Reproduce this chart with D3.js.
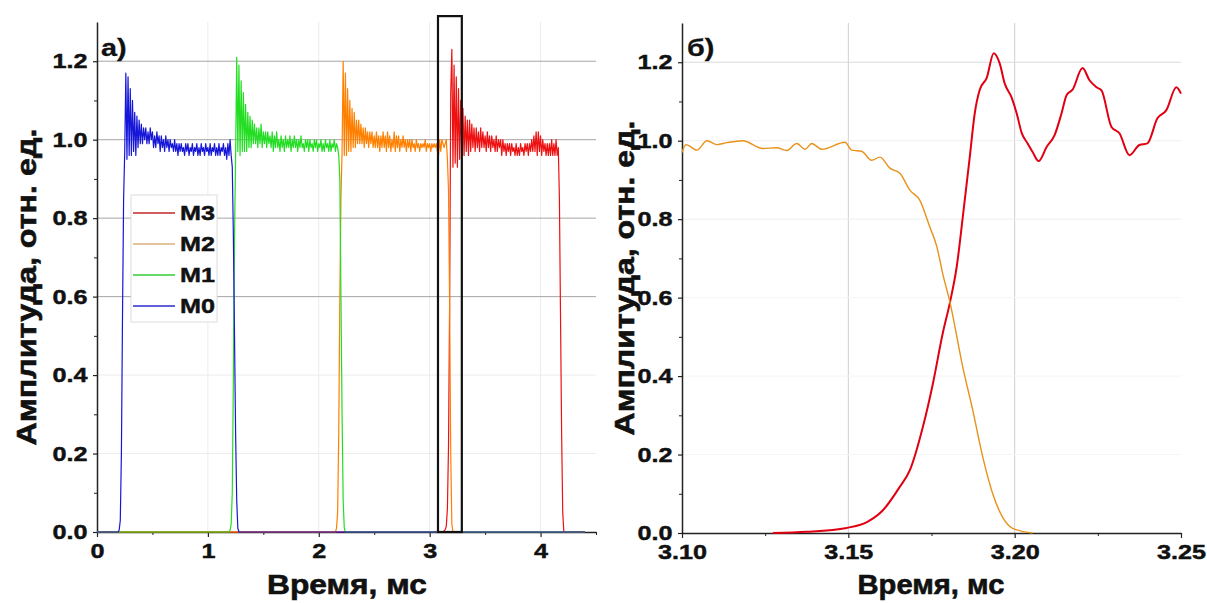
<!DOCTYPE html>
<html>
<head>
<meta charset="utf-8">
<script src="https://cdn.jsdelivr.net/npm/d3@7"></script>
<style>
  body { margin: 0; background: #fff; }
  svg { display: block; font-family: "Liberation Sans", Arial, sans-serif; }
</style>
</head>
<body>
<svg id="chart" width="1207" height="603"></svg>
<script>
// ---- data ----
const seriesNames = ["M3", "M2", "M1", "M0"];
const baseSpan = [0, 4.4];      // every series sits at zero over this range
const pulseStep = 0.01;         // sampling step of the pulse arrays, ms

const m0Start = 0.19;
const m0Values = [0,0.005,0.03,0.2,0.55,0.85,0.97,1.17,0.95,1.16,0.96,1.13,0.96,1.10,0.97,1.07,0.96,1.06,0.98,1.05,
  0.99,1.04,0.99,1.03,1.00,1.03,0.99,1.02,0.99,1.03,1.00,1.02,0.98,1.01,0.98,1.02,0.99,1.01,0.97,1.01,
  0.98,1.00,0.97,1.01,0.98,1.00,0.97,1.00,0.98,0.99,0.97,1.00,0.97,0.99,0.96,0.99,0.97,0.99,0.97,0.98,
  0.96,0.99,0.97,0.99,0.96,0.98,0.97,0.99,0.96,0.98,0.97,0.99,0.96,0.98,0.96,0.99,0.97,0.98,0.96,0.99,
  0.97,0.98,0.96,0.99,0.96,0.98,0.97,0.99,0.96,0.98,0.96,0.99,0.96,0.98,0.97,0.99,0.96,0.98,0.95,0.99,
  0.96,1.00,0.96,0.93,0.75,0.5,0.25,0.08,0.01,0];

const m1Start = 1.19;
const m1Values = [0,0.005,0.02,0.1,0.4,0.75,0.96,1.21,0.97,1.19,0.96,1.15,0.97,1.12,0.97,1.09,0.97,1.07,0.98,1.06,
  0.98,1.05,0.99,1.04,0.99,1.03,0.98,1.03,0.99,1.04,0.98,1.02,0.99,1.02,0.98,1.02,0.99,1.01,0.98,1.02,
  0.97,1.01,0.98,1.02,0.98,1.00,0.97,1.01,0.98,1.00,0.97,1.01,0.98,1.00,0.98,1.01,0.97,1.00,0.98,1.01,
  0.98,1.00,0.97,1.00,0.98,1.01,0.98,0.99,0.97,1.00,0.98,1.00,0.97,1.00,0.98,0.99,0.97,1.00,0.98,1.00,
  0.97,0.99,0.98,1.00,0.97,0.99,0.97,1.00,0.98,0.99,0.97,1.00,0.97,0.99,0.98,1.00,0.97,0.99,0.98,0.96,
  0.9,0.6,0.3,0.08,0.01,0];

const m2Start = 2.15;
const m2Values = [0,0.01,0.05,0.25,0.6,0.85,0.97,1.20,0.96,1.17,0.96,1.13,0.97,1.10,0.97,1.08,0.98,1.07,0.98,1.05,
  0.99,1.05,0.99,1.04,0.99,1.03,0.98,1.03,0.99,1.02,0.98,1.02,0.99,1.02,0.98,1.01,0.98,1.02,0.98,1.01,
  0.97,1.01,0.98,1.02,0.98,1.01,0.97,1.02,0.98,1.01,0.97,1.00,0.98,1.02,0.97,1.01,0.98,1.01,0.97,1.00,
  0.98,1.01,0.98,1.00,0.97,1.00,0.98,1.00,0.97,1.00,0.98,0.99,0.97,1.00,0.98,0.99,0.97,0.99,0.98,0.99,
  0.98,1.00,0.97,0.99,0.98,0.99,0.97,0.99,0.98,0.99,0.98,0.99,0.97,0.96,1.00,0.97,1.00,0.99,0.98,0.99,
  1.00,0.95,0.87,0.58,0.2,0.02,0];

const m3Start = 3.12;
const m3Values = [0,0.003,0.006,0.015,0.06,0.22,0.58,1.12,1.23,0.93,1.19,0.94,1.16,0.93,1.13,0.95,1.10,0.95,1.08,0.96,
  1.06,0.97,1.05,0.96,1.05,0.97,1.04,0.98,1.03,0.97,1.03,0.98,1.02,0.97,1.03,0.98,1.02,0.98,1.01,0.97,
  1.02,0.98,1.01,0.97,1.01,0.98,1.00,0.97,1.01,0.97,1.00,0.98,1.00,0.96,1.00,0.97,0.99,0.96,0.99,0.97,
  0.99,0.96,0.99,0.97,0.98,0.96,0.99,0.96,0.98,0.96,0.99,0.97,0.98,0.96,0.99,0.97,0.99,0.96,0.99,0.97,
  1.00,0.97,1.01,0.97,1.02,0.96,1.02,0.97,1.01,0.96,1.00,0.97,0.99,0.96,0.99,0.96,0.99,0.96,1.00,0.96,
  0.99,0.96,1.00,0.96,0.98,0.85,0.55,0.25,0.05,0];

// detail b): M2 fall and M3 rise, [time ms, amplitude]
const m2Detail = [[3.100,0.970],[3.1012,0.990],[3.1045,0.976],[3.1075,1.000],[3.1105,0.990],[3.1135,0.995],
  [3.1183,1.000],[3.1243,0.980],[3.1285,0.982],[3.1315,0.975],[3.1345,0.993],[3.137,0.978],[3.139,0.993],
  [3.142,0.978],[3.149,0.996],[3.151,0.976],[3.154,0.973],[3.157,0.950],[3.1595,0.958],[3.1625,0.930],
  [3.1655,0.917],[3.1685,0.874],[3.1715,0.848],[3.1745,0.780],[3.1766,0.730],[3.1784,0.660],[3.1805,0.590],
  [3.1844,0.423],[3.1874,0.313],[3.1904,0.194],[3.1934,0.100],[3.1964,0.040],[3.1994,0.012],[3.2054,0]];
const m3Detail = [[3.1273,0],[3.1375,0.003],[3.1495,0.013],[3.1556,0.028],[3.1604,0.058],[3.1655,0.118],
  [3.1685,0.160],[3.1724,0.270],[3.1754,0.380],[3.1784,0.510],[3.1805,0.586],[3.1826,0.680],[3.1844,0.805],
  [3.1865,0.958],[3.188,1.070],[3.1895,1.130],[3.1916,1.160],[3.1937,1.223],[3.1955,1.197],[3.197,1.146],
  [3.1991,1.110],[3.2006,1.070],[3.2021,1.020],[3.2039,0.993],[3.2054,0.971],[3.2072,0.948],[3.2096,0.984],
  [3.212,1.014],[3.2141,1.070],[3.2156,1.116],[3.2174,1.130],[3.2204,1.185],[3.2225,1.154],[3.2246,1.136],
  [3.2261,1.128],[3.2291,1.035],[3.2315,1.019],[3.2345,0.963],[3.2375,0.989],[3.2399,0.993],[3.2429,1.057],
  [3.2456,1.078],[3.2486,1.136],[3.25,1.120]];

const zoomBox = [3.075, 3.29, 0, 1.315];   // frame marking panel b) on panel a)

const yTicks = [0, 0.2, 0.4, 0.6, 0.8, 1.0, 1.2];
const yMinor = [0.1, 0.3, 0.5, 0.7, 0.9, 1.1];
const xTicksA = [0, 1, 2, 3, 4];
const xMinorA = [0.5, 1.5, 2.5, 3.5, 4.5];
const xTicksB = [3.10, 3.15, 3.20, 3.25];
const xMinorB = [3.125, 3.175, 3.225];

// ---- styles ----
const colorsA = { M3: "#ee1111", M2: "#ff8000", M1: "#22dd22", M0: "#1616d8" };
const legendColors = { M3: "#c0282c", M2: "#dcb07a", M1: "#33cc33", M0: "#2b2bcc" };
const colorsB = { M2: "#e8921c", M3: "#e00012" };
const SX = 1.2;   // horizontal stretch of the original figure text
const INK = "#111";

const svg = d3.select("#chart");

function pulse(start, values) {
  const pts = [[baseSpan[0], 0]];
  values.forEach((v, i) => pts.push([+(start + i * pulseStep).toFixed(3), v]));
  pts.push([baseSpan[1], 0]);
  return pts;
}
const pulsesA = {
  M0: pulse(m0Start, m0Values),
  M1: pulse(m1Start, m1Values),
  M2: pulse(m2Start, m2Values),
  M3: pulse(m3Start, m3Values)
};

// heavy text like the original bold Arial
function heavy(sel, w) {
  return sel.attr("font-weight", "bold").attr("fill", INK)
    .attr("stroke", INK).attr("stroke-width", w || 0.45);
}

function drawFrame(x, y, xTicks, xMinor, xFmt, opts) {
  const g = svg.append("g");
  const [x0, x1] = x.range();
  const [y0, y1] = y.range();

  // grid
  g.append("g").selectAll("line").data(xTicks.filter(d => opts.vGrid.includes(d)))
    .join("line")
      .attr("x1", d => x(d)).attr("x2", d => x(d))
      .attr("y1", y0).attr("y2", y1)
      .attr("stroke", opts.vGridColor).attr("stroke-width", 1);
  g.append("g").selectAll("line").data(yTicks.filter(d => d > 0))
    .join("line")
      .attr("x1", x0).attr("x2", x1)
      .attr("y1", d => y(d)).attr("y2", d => y(d))
      .attr("stroke", d => opts.hGridColor(d)).attr("stroke-width", 1);

  // minor ticks
  g.append("g")
      .attr("transform", `translate(0,${y0})`)
      .call(d3.axisBottom(x).tickValues(xMinor).tickSize(3).tickFormat(""))
      .call(s => s.select(".domain").remove());
  g.append("g")
      .attr("transform", `translate(${x0},0)`)
      .call(d3.axisLeft(y).tickValues(yMinor).tickSize(3).tickFormat(""))
      .call(s => s.select(".domain").remove());

  // main axes
  const ax = g.append("g")
      .attr("transform", `translate(0,${y0})`)
      .call(d3.axisBottom(x).tickValues(xTicks).tickSize(5).tickPadding(6)
        .tickSizeOuter(0).tickFormat(xFmt));
  const ay = g.append("g")
      .attr("transform", `translate(${x0},0)`)
      .call(d3.axisLeft(y).tickValues(yTicks).tickSize(4).tickPadding(4)
        .tickSizeOuter(0).tickFormat(d3.format(".1f")));
  [ax, ay].forEach(a => {
    a.select(".domain").attr("stroke", "#222").attr("stroke-width", 1.5);
    a.selectAll(".tick line").attr("stroke", "#222").attr("stroke-width", 1.2);
    heavy(a.selectAll("text"))
      .attr("font-size", 21)
      .attr("font-family", '"Liberation Sans", Arial, sans-serif')
      .attr("transform", `scale(${SX},1)`);
  });
  g.selectAll(".tick line").attr("stroke", "#222");
  return g;
}

function stretchedText(x, y, txt, size, anchor) {
  return heavy(svg.append("text"), 0.3)
      .attr("transform", `translate(${x},${y}) scale(${SX},1)`)
      .attr("text-anchor", anchor || "start")
      .attr("font-size", size)
      .text(txt);
}

function axisTitles(cx, baseY, xLen, yBaseX, yCenter, yLen) {
  heavy(svg.append("text"), 0.6)
      .attr("x", cx).attr("y", baseY)
      .attr("text-anchor", "middle")
      .attr("font-size", 28)
      .attr("textLength", xLen).attr("lengthAdjust", "spacingAndGlyphs")
      .text("Время, мс");
  heavy(svg.append("text"), 0.6)
      .attr("transform", `translate(${yBaseX},${yCenter}) rotate(-90)`)
      .attr("text-anchor", "middle")
      .attr("font-size", 27)
      .attr("textLength", yLen).attr("lengthAdjust", "spacingAndGlyphs")
      .text("Амплитуда, отн. ед.");
}

// ---- panel a) ----
const xA = d3.scaleLinear().domain([0, 4.5]).range([97, 596]);
const yA = d3.scaleLinear().domain([0, 1.3]).range([532, 22]);

drawFrame(xA, yA, xTicksA, xMinorA, d3.format("d"), {
  vGrid: [1, 2, 3, 4], vGridColor: "#ececec",
  hGridColor: d => d >= 0.6 ? "#a6a6a6" : "#ececec"
});

const lineA = d3.line().x(d => xA(d[0])).y(d => yA(d[1]));
svg.append("g")
  .selectAll("path")
  .data(seriesNames.map(n => ({ name: n, pts: pulsesA[n] })))
  .join("path")
    .attr("d", d => lineA(d.pts))
    .attr("fill", "none")
    .attr("stroke", d => colorsA[d.name])
    .attr("stroke-width", 1.2)
    .attr("stroke-linejoin", "round");

// legend
const legend = svg.append("g").attr("transform", "translate(131,195)");
legend.append("rect")
    .attr("width", 86).attr("height", 127)
    .attr("fill", "#fff").attr("stroke", "#dcdcdc").attr("stroke-width", 1);
seriesNames.forEach((n, i) => {
  const cy = 18 + i * 31;
  legend.append("line")
      .attr("x1", 2).attr("x2", 44).attr("y1", cy).attr("y2", cy)
      .attr("stroke", legendColors[n]).attr("stroke-width", 1.3);
  heavy(legend.append("text"))
      .attr("transform", `translate(49,${cy}) scale(${SX},1)`)
      .attr("dominant-baseline", "central")
      .attr("font-size", 21)
      .text(n);
});

// frame of the zoomed window
svg.append("rect")
    .attr("x", xA(zoomBox[0])).attr("y", yA(zoomBox[3]))
    .attr("width", xA(zoomBox[1]) - xA(zoomBox[0]))
    .attr("height", yA(zoomBox[2]) - yA(zoomBox[3]))
    .attr("fill", "none").attr("stroke", "#111").attr("stroke-width", 2.2);

stretchedText(101, 56, "а)", 24);
axisTitles(347, 594, 160, 36, 287, 317);

// ---- panel b) ----
const xB = d3.scaleLinear().domain([3.10, 3.25]).range([682, 1181]);
const yB = d3.scaleLinear().domain([0, 1.3]).range([533, 23]);

drawFrame(xB, yB, xTicksB, xMinorB, d3.format(".2f"), {
  vGrid: [3.15, 3.20], vGridColor: "#cfcfcf",
  hGridColor: d => d >= 1.2 ? "#dadada" : (d >= 0.8 ? "#efefef" : "#f5f5f5")
});

const lineB = d3.line().x(d => xB(d[0])).y(d => yB(d[1])).curve(d3.curveMonotoneX);
svg.append("path")
    .attr("d", lineB(m3Detail))
    .attr("fill", "none").attr("stroke", colorsB.M3).attr("stroke-width", 2);
svg.append("path")
    .attr("d", lineB(m2Detail))
    .attr("fill", "none").attr("stroke", colorsB.M2).attr("stroke-width", 1.4);

stretchedText(687, 56, "б)", 24);
axisTitles(931, 594, 147, 634, 278, 315);
</script>
</body>
</html>
